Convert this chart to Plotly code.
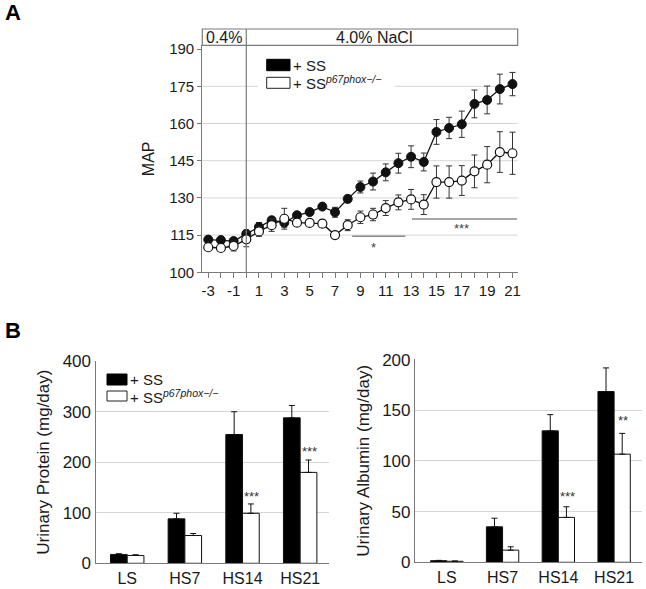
import plotly.graph_objects as go

# ---------------- data ----------------
days = list(range(-3, 22))
ss_map = [113.2, 113.0, 112.6, 115.5, 118.3, 121.0, 120.0, 123.0, 124.3, 126.5, 124.2, 129.6, 134.4,
          136.6, 140.3, 144.0, 146.6, 144.5, 156.6, 158.2, 159.7, 167.9, 169.5, 173.9, 175.9]
ss_err = [0.6, 0.6, 0.8, 1.5, 1.8, 1.2, 1.8, 1.0, 1.0, 1.0, 2.0, 1.5, 2.4,
          3.4, 3.4, 4.0, 4.4, 3.6, 5.0, 4.3, 5.3, 5.6, 5.6, 6.0, 4.7]
ko_map = [110.1, 109.8, 110.6, 113.3, 116.5, 119.0, 121.6, 120.0, 119.9, 119.6, 115.0, 119.0, 122.2,
          123.3, 125.9, 128.2, 129.4, 127.3, 136.4, 136.4, 137.0, 140.7, 143.4, 148.5, 148.0]
ko_err = [0.6, 0.6, 2.0, 3.0, 2.0, 2.5, 4.2, 1.5, 1.0, 1.5, 1.0, 2.2, 2.5,
          2.5, 3.0, 3.0, 4.0, 4.0, 6.5, 6.5, 6.0, 6.6, 7.3, 8.2, 8.5]
map_ticks = [100, 115, 130, 145, 160, 175, 190]
day_ticktext = [str(d) if d % 2 != 0 else "" for d in days]

groups = ["LS", "HS7", "HS14", "HS21"]
protein_ss = [17.5, 88, 255, 288]
protein_ss_err = [1.5, 11, 45, 24.5]
protein_ko = [15.5, 55, 99, 180]
protein_ko_err = [1.5, 4, 18.5, 24.5]
albumin_ss = [1.6, 35, 129.7, 168.5]
albumin_ss_err = [0.3, 8.5, 16, 23.3]
albumin_ko = [1.0, 12, 44.3, 106.7]
albumin_ko_err = [0.3, 3.3, 10.5, 20.5]

ko_label = "+ SS<sup><i>p67phox\u2212/\u2212</i></sup>"
ss_label = "+ SS"

# ---------------- layout helpers ----------------
W, H = 646, 589
def px(x):
    return x / W
def py(y):
    return 1 - y / H

FONT = "Liberation Sans, Arial, sans-serif"
AX = "#7a7a7a"
GRID = "#d6d6d6"
TXT = "#1a1a1a"

fig = go.Figure()

# ---------------- panel A ----------------
fig.add_trace(go.Scatter(
    x=days, y=ss_map, mode="lines+markers", xaxis="x", yaxis="y",
    line=dict(color="#111111", width=1.3),
    marker=dict(size=9, color="#111111", line=dict(color="#111111", width=1)),
    error_y=dict(type="data", array=ss_err, color="#333333", thickness=1, width=3),
    showlegend=False))
fig.add_trace(go.Scatter(
    x=days, y=ko_map, mode="lines+markers", xaxis="x", yaxis="y",
    line=dict(color="#111111", width=1.3),
    marker=dict(size=9, color="white", line=dict(color="#111111", width=1.2)),
    error_y=dict(type="data", array=ko_err, color="#333333", thickness=1, width=3),
    showlegend=False))

# ---------------- panel B bars ----------------
def bars(xa, ya, vals, errs, color):
    return go.Bar(
        x=groups, y=vals, xaxis=xa, yaxis=ya,
        marker=dict(color=color, line=dict(color="#111111", width=1)),
        error_y=dict(type="data", symmetric=False, array=errs, arrayminus=[0] * len(errs),
                     color="#111111", thickness=1, width=3),
        showlegend=False)

fig.add_trace(bars("x2", "y2", protein_ss, protein_ss_err, "#000000"))
fig.add_trace(bars("x2", "y2", protein_ko, protein_ko_err, "#ffffff"))
fig.add_trace(bars("x3", "y3", albumin_ss, albumin_ss_err, "#000000"))
fig.add_trace(bars("x3", "y3", albumin_ko, albumin_ko_err, "#ffffff"))

shapes = []
annotations = []

# gridlines panel A (115-175)
for v in map_ticks[1:-1]:
    shapes.append(dict(type="line", xref="x domain", yref="y", x0=0, x1=1, y0=v, y1=v,
                       line=dict(color=GRID, width=1), layer="below"))

# legend background panel A
shapes.append(dict(type="rect", xref="paper", yref="paper", x0=px(258), x1=px(395),
                   y0=py(94), y1=py(53), fillcolor="white", line=dict(width=0), layer="between"))

# salt box above panel A
shapes.append(dict(type="rect", xref="x domain", yref="paper", x0=0, x1=1, y0=py(45.4), y1=py(29),
                   line=dict(color=AX, width=1.2), fillcolor="rgba(0,0,0,0)"))
shapes.append(dict(type="line", xref="x", yref="paper", x0=0, x1=0, y0=py(272.3), y1=py(29),
                   line=dict(color=AX, width=1.2)))
annotations.append(dict(text="0.4%", xref="x", yref="paper", x=-1.75, y=py(37.5),
                        showarrow=False, font=dict(size=16, color=TXT),
                        xanchor="center", yanchor="middle"))
annotations.append(dict(text="4.0% NaCl", xref="x", yref="paper", x=10.1, y=py(37.5),
                        showarrow=False, font=dict(size=16, color=TXT),
                        xanchor="center", yanchor="middle"))

# significance bars panel A
shapes.append(dict(type="line", xref="x", yref="y", x0=8.35, x1=12.55, y0=114.5, y1=114.5,
                   line=dict(color="#8a8a8a", width=1.5)))
shapes.append(dict(type="line", xref="x", yref="y", x0=13.07, x1=21.35, y0=121.5, y1=121.5,
                   line=dict(color="#8a8a8a", width=1.5)))
annotations.append(dict(text="*", xref="x", yref="y", x=10, y=110.2, showarrow=False,
                        font=dict(size=13, color="#444444"), xanchor="center", yanchor="middle"))
annotations.append(dict(text="***", xref="x", yref="y", x=17, y=117.6, showarrow=False,
                        font=dict(size=13, color="#444444"), xanchor="center", yanchor="middle"))

# legends (swatches + labels)
def legend(x0, x1, ytop1, ybot1, ytop2, ybot2, tx):
    shapes.append(dict(type="rect", xref="paper", yref="paper", x0=px(x0), x1=px(x1),
                       y0=py(ybot1), y1=py(ytop1), fillcolor="#000000",
                       line=dict(color="#000000", width=1)))
    shapes.append(dict(type="rect", xref="paper", yref="paper", x0=px(x0), x1=px(x1),
                       y0=py(ybot2), y1=py(ytop2), fillcolor="#ffffff",
                       line=dict(color="#222222", width=1)))
    annotations.append(dict(text=ss_label, xref="paper", yref="paper", x=px(tx),
                            y=py((ytop1 + ybot1) / 2), xanchor="left", yanchor="middle",
                            showarrow=False, font=dict(size=15, color=TXT)))
    annotations.append(dict(text=ko_label, xref="paper", yref="paper", x=px(tx),
                            y=py((ytop2 + ybot2) / 2), xanchor="left", yanchor="middle",
                            showarrow=False, font=dict(size=15, color=TXT)))

legend(266.7, 290, 59.3, 70.7, 77.3, 88.3, 291)
legend(107, 127, 374, 385, 391, 401, 128)

# significance stars panel B
def stars(xa, ya, grp, yv, txt):
    annotations.append(dict(text=txt, xref=xa, yref=ya, x=grp, y=yv, xshift=9,
                            showarrow=False, font=dict(size=13, color="#333333"),
                            xanchor="center", yanchor="middle"))

stars("x2", "y2", "HS14", 133, "***")
stars("x2", "y2", "HS21", 221, "***")
stars("x3", "y3", "HS14", 64.5, "***")
stars("x3", "y3", "HS21", 139.5, "**")

# panel letters
annotations.append(dict(text="<b>A</b>", xref="paper", yref="paper", x=px(12.5), y=py(13),
                        xanchor="center", yanchor="middle",
                        showarrow=False, font=dict(size=22, color="#000000")))
annotations.append(dict(text="<b>B</b>", xref="paper", yref="paper", x=px(13.5), y=py(330),
                        xanchor="center", yanchor="middle",
                        showarrow=False, font=dict(size=22, color="#000000")))

common_axis = dict(showline=True, linecolor=AX, linewidth=1.2, zeroline=False,
                   automargin=False, tickfont=dict(size=15, color=TXT, family=FONT))

fig.update_layout(
    width=W, height=H,
    margin=dict(l=0, r=0, t=0, b=0, autoexpand=False),
    paper_bgcolor="white", plot_bgcolor="white",
    font=dict(family=FONT, color=TXT),
    barmode="group", bargap=0.42, bargroupgap=0,
    shapes=shapes, annotations=annotations,
    xaxis=dict(common_axis, domain=[px(202.3), px(517.7)], range=[-3.47, 21.41],
               tickvals=days, ticktext=day_ticktext, ticks="outside", ticklen=5,
               tickcolor=AX, showgrid=False, anchor="y"),
    yaxis=dict(common_axis, domain=[py(272.3), py(45.4)], range=[100, 191.5],
               tickvals=map_ticks, ticks="outside", ticklen=4, tickcolor=AX,
               showgrid=False, anchor="x",
               title=dict(text="MAP", font=dict(size=16, color=TXT), standoff=10)),
    xaxis2=dict(common_axis, domain=[px(95.5), px(329)], range=[-0.55, 3.5],
                type="category", showgrid=False, anchor="y2",
                tickfont=dict(size=16, color=TXT, family=FONT)),
    yaxis2=dict(common_axis, domain=[py(563.3), py(361)], range=[0, 400.5],
                tickvals=[0, 100, 200, 300, 400], showgrid=True, gridcolor=GRID, anchor="x2",
                tickfont=dict(size=17, color=TXT, family=FONT),
                title=dict(text="Urinary Protein (mg/day)", font=dict(size=17, color=TXT), standoff=8)),
    xaxis3=dict(common_axis, domain=[px(415), px(642)], range=[-0.57, 3.5],
                type="category", showgrid=False, anchor="y3",
                tickfont=dict(size=16, color=TXT, family=FONT)),
    yaxis3=dict(common_axis, domain=[py(562.3), py(359.3)], range=[0, 200.3],
                tickvals=[0, 50, 100, 150, 200], showgrid=True, gridcolor=GRID, anchor="x3",
                tickfont=dict(size=17, color=TXT, family=FONT),
                title=dict(text="Urinary Albumin (mg/day)", font=dict(size=17, color=TXT), standoff=8)),
)

fig.write_html("out.html", config={"displayModeBar": False},
               post_script="document.body.style.margin='0';")
